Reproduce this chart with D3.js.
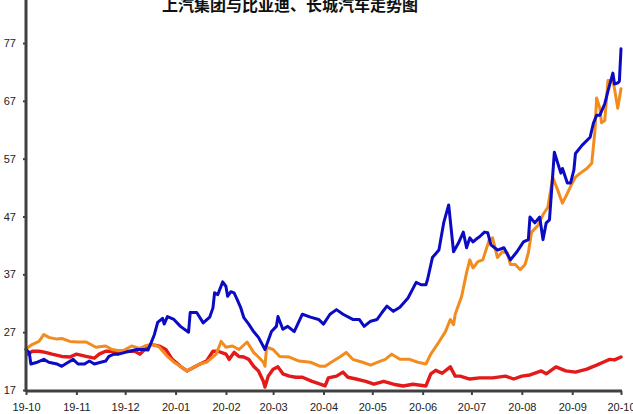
<!DOCTYPE html>
<html>
<head>
<meta charset="utf-8">
<script src="https://cdn.jsdelivr.net/npm/d3@7"></script>
<style>
  body { margin: 0; background: #fff; }
  svg { display: block; }
</style>
</head>
<body>
<div class="linechart"></div>
<script>
// tick values and series
let yTicks = [17, 27, 37, 47, 57, 67, 77];
let monthTicks = ["2019-10-01","2019-11-01","2019-12-01","2020-01-01","2020-02-01","2020-03-01",
                  "2020-04-01","2020-05-01","2020-06-01","2020-07-01","2020-08-01","2020-09-01","2020-10-01"];

// 上汽集团 (red)
let saicDates = ["2019-10-02","2019-10-05","2019-10-09","2019-10-13","2019-10-17","2019-10-23","2019-10-28",
  "2019-11-01","2019-11-07","2019-11-12","2019-11-15","2019-11-19","2019-11-25","2019-12-02","2019-12-07",
  "2019-12-10","2019-12-13","2019-12-17","2019-12-22","2019-12-26","2019-12-30","2020-01-04","2020-01-08",
  "2020-01-16","2020-01-20","2020-01-24","2020-01-27","2020-02-01","2020-02-03","2020-02-06","2020-02-09",
  "2020-02-12","2020-02-15","2020-02-18","2020-02-21","2020-02-24","2020-02-25","2020-02-27","2020-03-01",
  "2020-03-04","2020-03-07","2020-03-11","2020-03-15","2020-03-19","2020-03-25","2020-03-30","2020-04-02",
  "2020-04-04","2020-04-09","2020-04-13","2020-04-16","2020-04-21","2020-04-27","2020-05-02","2020-05-08",
  "2020-05-14","2020-05-20","2020-05-26","2020-06-03","2020-06-06","2020-06-09","2020-06-13","2020-06-18",
  "2020-06-21","2020-06-24","2020-06-30","2020-07-06","2020-07-14","2020-07-22","2020-07-27","2020-08-01",
  "2020-08-06","2020-08-13","2020-08-16","2020-08-22","2020-08-28","2020-09-03","2020-09-10","2020-09-16",
  "2020-09-20","2020-09-24","2020-09-27","2020-10-01"];
let saicValues = [23.2,23.7,23.7,23.5,23.2,22.8,22.7,
  23.2,22.8,22.5,23.2,23.7,23.7,23.7,23.7,
  23.2,24.0,24.9,24.6,24.0,22.3,21.1,20.3,
  21.5,22.0,23.7,23.7,23.2,22.3,23.5,22.8,
  22.7,22.3,21.1,20.3,18.5,17.5,19.4,20.6,
  21.0,19.8,19.4,19.2,19.2,18.5,18.0,17.7,
  19.1,19.4,20.1,19.2,18.9,18.5,18.0,18.5,
  18.0,17.7,18.0,17.7,19.8,20.4,19.9,21.0,
  19.4,19.4,18.9,19.1,19.1,19.4,18.9,19.4,
  19.6,20.3,19.8,21.0,20.3,20.1,20.6,21.3,
  21.8,22.3,22.2,22.7];

// 长城汽车 (orange)
let gwmDates = ["2019-10-01","2019-10-05","2019-10-09","2019-10-12","2019-10-15","2019-10-20","2019-10-23",
  "2019-10-28","2019-11-02","2019-11-07","2019-11-13","2019-11-19","2019-11-23","2019-11-29","2019-12-05",
  "2019-12-10","2019-12-14","2019-12-18","2019-12-22","2019-12-27","2019-12-31","2020-01-04","2020-01-08",
  "2020-01-16","2020-01-20","2020-01-26","2020-01-29","2020-02-01","2020-02-05","2020-02-09","2020-02-14",
  "2020-02-18","2020-02-21","2020-02-24","2020-02-25","2020-02-26","2020-03-01","2020-03-05","2020-03-11",
  "2020-03-17","2020-03-24","2020-03-30","2020-04-02","2020-04-07","2020-04-11","2020-04-15","2020-04-19",
  "2020-04-25","2020-04-30","2020-05-06","2020-05-09","2020-05-13","2020-05-18","2020-05-24","2020-05-29",
  "2020-06-03","2020-06-06","2020-06-11","2020-06-15","2020-06-18","2020-06-20","2020-06-21","2020-06-25",
  "2020-06-28","2020-06-30","2020-07-02","2020-07-05","2020-07-08","2020-07-12","2020-07-14","2020-07-17",
  "2020-07-20","2020-07-23","2020-07-25","2020-07-28","2020-07-31","2020-08-03","2020-08-05","2020-08-07",
  "2020-08-11","2020-08-14","2020-08-17","2020-08-20","2020-08-23","2020-08-26","2020-08-29","2020-09-01",
  "2020-09-03","2020-09-06","2020-09-10","2020-09-13","2020-09-15","2020-09-16","2020-09-18","2020-09-19",
  "2020-09-21","2020-09-23","2020-09-26","2020-09-27","2020-09-29","2020-10-01"];
let gwmValues = [24.1,24.9,25.4,26.6,26.1,25.8,25.9,
  25.4,25.3,25.3,24.4,24.6,24.0,23.7,24.6,
  24.2,24.7,24.9,24.4,22.8,21.8,21.1,20.3,
  21.5,21.8,23.2,25.4,24.4,24.6,24.0,25.3,
  23.5,22.7,21.8,21.1,24.4,24.0,22.8,22.7,
  22.0,21.8,21.1,21.1,22.0,22.7,23.5,22.3,
  21.8,21.3,22.0,22.3,23.2,22.3,22.3,21.8,
  21.5,23.2,25.3,27.1,29.2,28.3,30.1,33.2,
  37.3,39.5,38.1,39.2,39.5,43.0,43.3,39.9,
  40.9,40.7,38.7,38.7,37.8,38.7,40.7,44.3,
  45.5,47.3,48.6,53.8,51.6,49.3,51.0,52.8,
  53.8,54.5,55.3,56.2,61.9,67.5,65.7,63.2,
  63.6,70.5,70.5,69.1,65.7,69.1];

// 比亚迪 (blue)
let bydDates = ["2019-10-01","2019-10-03","2019-10-04","2019-10-08","2019-10-12","2019-10-15","2019-10-20",
  "2019-10-23","2019-10-27","2019-10-30","2019-11-02","2019-11-06","2019-11-09","2019-11-12","2019-11-16",
  "2019-11-19","2019-11-21","2019-11-24","2019-11-27","2019-12-01","2019-12-04","2019-12-08","2019-12-12",
  "2019-12-15","2019-12-17","2019-12-19","2019-12-21","2019-12-24","2019-12-25","2019-12-27","2019-12-31",
  "2020-01-04","2020-01-09","2020-01-10","2020-01-14","2020-01-18","2020-01-22","2020-01-24","2020-01-25",
  "2020-01-27","2020-01-30","2020-02-01","2020-02-02","2020-02-04","2020-02-06","2020-02-08","2020-02-10",
  "2020-02-12","2020-02-15","2020-02-18","2020-02-21","2020-02-25","2020-02-29","2020-03-03","2020-03-04",
  "2020-03-07","2020-03-10","2020-03-14","2020-03-19","2020-03-24","2020-03-29","2020-04-01","2020-04-05",
  "2020-04-09","2020-04-13","2020-04-19","2020-04-23","2020-04-26","2020-04-30","2020-05-04","2020-05-07",
  "2020-05-10","2020-05-14","2020-05-18","2020-05-23","2020-05-28","2020-05-31","2020-06-03","2020-06-04",
  "2020-06-07","2020-06-11","2020-06-14","2020-06-17","2020-06-20","2020-06-23","2020-06-26","2020-06-28",
  "2020-06-30","2020-07-02","2020-07-04","2020-07-06","2020-07-09","2020-07-11","2020-07-13","2020-07-17",
  "2020-07-21","2020-07-25","2020-07-29","2020-08-02","2020-08-05","2020-08-06","2020-08-09","2020-08-12",
  "2020-08-14","2020-08-16","2020-08-18","2020-08-21","2020-08-25","2020-08-26","2020-08-29","2020-08-31",
  "2020-09-02","2020-09-03","2020-09-07","2020-09-12","2020-09-14","2020-09-16","2020-09-18","2020-09-21",
  "2020-09-23","2020-09-26","2020-09-27","2020-09-29","2020-09-30","2020-10-01"];
let bydValues = [24.0,23.5,21.5,21.8,22.3,21.8,21.5,
  21.1,21.8,22.3,21.5,21.5,22.0,21.5,21.8,
  22.0,22.8,23.2,23.2,23.5,23.7,24.0,24.0,
  23.9,25.2,26.6,28.7,29.4,28.4,29.7,29.2,
  28.0,27.0,30.4,30.4,28.6,29.6,31.2,33.8,
  33.5,35.7,34.9,33.2,34.0,33.8,32.6,31.3,
  29.5,28.4,27.1,26.1,24.0,27.1,28.0,29.7,
  27.5,28.0,27.1,30.1,29.6,29.2,28.4,30.1,
  30.9,30.1,29.2,29.2,28.0,28.9,29.2,30.4,
  31.5,30.6,31.3,32.9,35.6,35.2,35.2,36.1,
  39.9,41.2,46.0,49.0,40.9,42.4,44.3,41.6,
  43.3,42.6,43.1,43.5,44.3,44.2,42.1,41.2,
  41.6,39.5,40.9,42.6,43.0,46.9,45.9,46.9,
  43.0,45.9,46.4,58.1,54.5,55.3,52.8,52.8,
  55.0,57.9,59.3,60.7,63.1,64.5,64.5,66.5,
  68.7,71.8,69.9,70.1,70.4,76.0];

let width = 633, height = 414;
let margin = {top: 43, right: 12, bottom: 24, left: 26};
let axiscolor = "#404040";

let svg = d3.select(".linechart").append("svg")
    .attr("width", width)
    .attr("height", height);

let parse = d3.timeParse("%Y-%m-%d");

const xScale = d3.scaleTime()
    .domain([parse("2019-10-01"), parse("2020-10-01")])
    .range([margin.left, 621]);

const yScale = d3.scaleLinear()
    .domain([17, 77])
    .range([390, margin.top]);

// title, partly cut by the top edge like the original
svg.append("text")
    .attr("x", 290)
    .attr("y", 10.5)
    .attr("text-anchor", "middle")
    .attr("font-family", "Noto Sans CJK SC")
    .attr("font-weight", "bold")
    .attr("font-size", 16)
    .attr("fill", "#111")
    .text("上汽集团与比亚迪、长城汽车走势图");

function addLine(dates, values, color, w) {
    let rows = dates.map((d, i) => ({date: parse(d), val: values[i]}));
    svg.append("path")
        .datum(rows)
        .attr("fill", "none")
        .attr("stroke", color)
        .attr("stroke-width", w)
        .attr("stroke-linejoin", "round")
        .attr("stroke-linecap", "round")
        .attr("d", d3.line()
            .x(d => xScale(d.date))
            .y(d => yScale(d.val)));
}

addLine(saicDates, saicValues, "#e21a1a", 3.4);
addLine(gwmDates, gwmValues, "#f28c1e", 3);
addLine(bydDates, bydValues, "#0b0bc4", 3);

// axes
let xAxis = svg.append("g")
    .attr("transform", "translate(0," + 391 + ")")
    .call(d3.axisBottom(xScale)
        .tickValues(monthTicks.map(parse))
        .tickFormat(d3.timeFormat("%y-%m"))
        .tickSize(4)
        .tickPadding(8));

let yAxis = svg.append("g")
    .attr("transform", "translate(" + margin.left + ",0)")
    .call(d3.axisLeft(yScale)
        .tickValues(yTicks)
        .tickSize(3)
        .tickPadding(7));

[xAxis, yAxis].forEach(function(g) {
    g.select(".domain").remove();
    g.selectAll("line").attr("stroke", axiscolor).attr("stroke-width", 2);
    g.selectAll("text")
        .attr("font-family", "Liberation Sans, Arial")
        .attr("font-size", 11)
        .attr("fill", "#222");
});

// heavy axis lines
svg.append("line")
    .attr("x1", margin.left).attr("x2", margin.left)
    .attr("y1", 0).attr("y2", 392)
    .attr("stroke", axiscolor).attr("stroke-width", 3);
svg.append("line")
    .attr("x1", margin.left).attr("x2", 622)
    .attr("y1", 391).attr("y2", 391)
    .attr("stroke", axiscolor).attr("stroke-width", 3);
</script>
</body>
</html>
